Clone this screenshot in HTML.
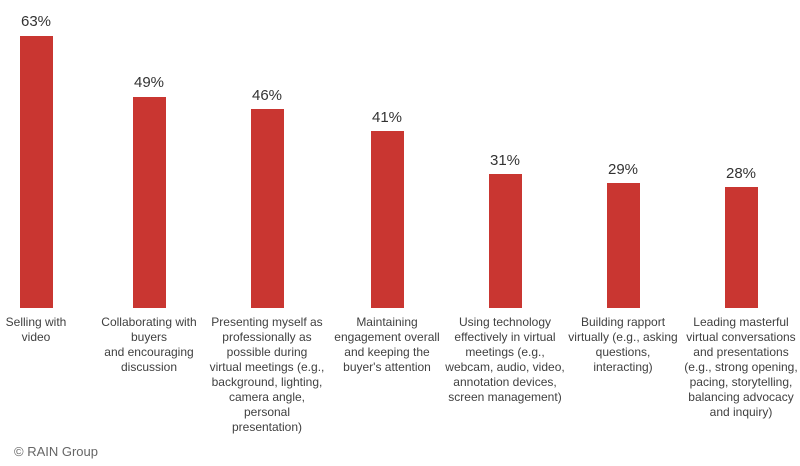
<!DOCTYPE html>
<html><head><meta charset="utf-8"><style>
body{margin:0;width:800px;height:466px;background:#fff;position:relative;font-family:"Liberation Sans",sans-serif;color:#444;overflow:hidden}
.b{position:absolute;width:33px;background:#c93631;bottom:158px}
.v{position:absolute;width:80px;text-align:center;font-size:15px;color:#333}
.l{position:absolute;width:140px;text-align:center;font-size:12px;line-height:15px;top:315px;color:#404040}
</style></head><body>
<div class="b" style="left:20px;top:36px"></div><div class="v" style="left:-4px;top:13px">63%</div>
<div class="b" style="left:133px;top:97px"></div><div class="v" style="left:109px;top:74px">49%</div>
<div class="b" style="left:251px;top:109px"></div><div class="v" style="left:227px;top:87px">46%</div>
<div class="b" style="left:371px;top:131px"></div><div class="v" style="left:347px;top:109px">41%</div>
<div class="b" style="left:489px;top:174px"></div><div class="v" style="left:465px;top:152px">31%</div>
<div class="b" style="left:607px;top:183px"></div><div class="v" style="left:583px;top:161px">29%</div>
<div class="b" style="left:725px;top:187px"></div><div class="v" style="left:701px;top:165px">28%</div>
<div class="l" style="left:-34px">Selling with<br>video</div>
<div class="l" style="left:79px">Collaborating with<br>buyers<br>and encouraging<br>discussion</div>
<div class="l" style="left:197px">Presenting myself as<br>professionally as<br>possible during<br>virtual meetings (e.g.,<br>background, lighting,<br>camera angle,<br>personal<br>presentation)</div>
<div class="l" style="left:317px">Maintaining<br>engagement overall<br>and keeping the<br>buyer's attention</div>
<div class="l" style="left:435px">Using technology<br>effectively in virtual<br>meetings (e.g.,<br>webcam, audio, video,<br>annotation devices,<br>screen management)</div>
<div class="l" style="left:553px">Building rapport<br>virtually (e.g., asking<br>questions,<br>interacting)</div>
<div class="l" style="left:671px">Leading masterful<br>virtual conversations<br>and presentations<br>(e.g., strong opening,<br>pacing, storytelling,<br>balancing advocacy<br>and inquiry)</div>
<div style="position:absolute;left:14px;top:444px;font-size:13px;color:#666">© RAIN Group</div>
</body></html>
